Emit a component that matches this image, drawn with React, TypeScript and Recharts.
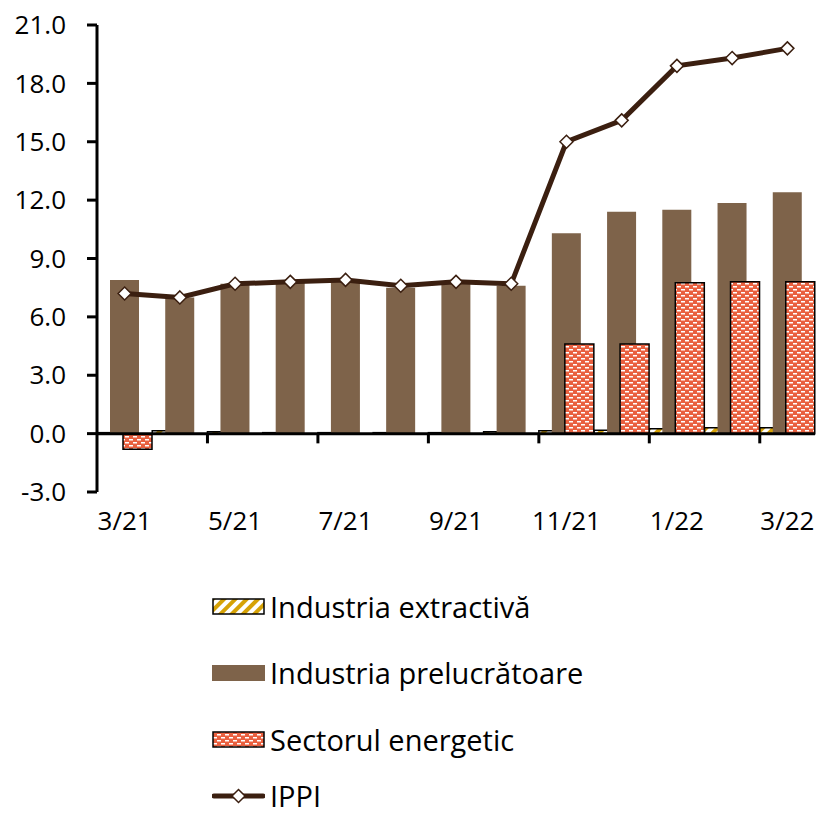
import { ComposedChart, Bar, Line, XAxis, YAxis, ReferenceLine } from 'recharts'

const months = ['3/21', '4/21', '5/21', '6/21', '7/21', '8/21', '9/21', '10/21', '11/21', '12/21', '1/22', '2/22', '3/22']
const extractive = [0.05, 0.15, 0.1, 0.05, 0.05, 0.05, 0.05, 0.1, 0.15, 0.17, 0.25, 0.3, 0.3]
const manufacturing = [7.9, 7.0, 7.7, 7.8, 7.8, 7.5, 7.7, 7.6, 10.3, 11.4, 11.5, 11.85, 12.4]
const energy = [-0.8, 0, 0, 0, 0, 0, 0, 0, 4.6, 4.6, 7.75, 7.8, 7.8]
const ippi = [7.2, 7.0, 7.7, 7.8, 7.9, 7.6, 7.8, 7.7, 15.0, 16.1, 18.9, 19.3, 19.8]
const yTicks = [-3, 0, 3, 6, 9, 12, 15, 18, 21]
const legendItems = ['Industria extractivă', 'Industria prelucrătoare', 'Sectorul energetic', 'IPPI']

const BROWN = '#7E634A'
const RED = '#E9603F'
const GOLD = '#D6A206'
const LINE = '#3B1F10'
const FONT = '"Open Sans", sans-serif'

const data = months.map((m, i) => ({
  month: m,
  extractive: extractive[i],
  manufacturing: manufacturing[i],
  energy: energy[i],
  ippi: ippi[i],
}))

// tick marks on the zero line every second category boundary
const boundaryTicks = months.filter((_, i) => i > 0 && i % 2 === 0)

const Diamond = (props: any) => {
  const { cx, cy } = props
  if (cx == null || cy == null) return null
  const r = 6.5
  return (
    <polygon
      points={`${cx},${cy - r} ${cx + r},${cy} ${cx},${cy + r} ${cx - r},${cy}`}
      fill="#fff"
      stroke={LINE}
      strokeWidth={1.5}
    />
  )
}

function Patterns() {
  return (
    <svg width={0} height={0} style={{ position: 'absolute' }}>
      <defs>
        <pattern id="stripes" width={8} height={8} patternUnits="userSpaceOnUse" patternTransform="rotate(45)">
          <rect width={8} height={8} fill="#fff" />
          <rect width={4} height={8} fill={GOLD} />
        </pattern>
        <pattern id="bricks" width={8} height={6} patternUnits="userSpaceOnUse">
          <rect width={8} height={6} fill={RED} />
          <rect x={1} y={1} width={4} height={1.5} fill="#fff" />
          <rect x={5} y={4} width={3} height={1.5} fill="#fff" />
          <rect x={0} y={4} width={1} height={1.5} fill="#fff" />
        </pattern>
      </defs>
    </svg>
  )
}

function LegendIcon({ index }: { index: number }) {
  return (
    <svg width={53} height={20} style={{ display: 'block' }}>
      {index === 0 && <rect x={1} y={2} width={51} height={15} fill="url(#stripes)" stroke="#000" strokeWidth={1.5} />}
      {index === 1 && <rect x={0} y={2} width={53} height={16} fill={BROWN} />}
      {index === 2 && <rect x={1} y={2} width={51} height={15} fill="url(#bricks)" stroke="#000" strokeWidth={1.5} />}
      {index === 3 && (
        <g>
          <line x1={2} y1={10} x2={51} y2={10} stroke={LINE} strokeWidth={5} strokeLinecap="round" />
          <Diamond cx={26.5} cy={10} />
        </g>
      )}
    </svg>
  )
}

export default function App() {
  return (
    <div style={{ position: 'absolute', left: 0, top: 0, width: 821, height: 819, background: '#fff', fontFamily: FONT }}>
      <Patterns />
      <ComposedChart
        width={821}
        height={560}
        data={data}
        margin={{ top: 25, right: 6, left: 0, bottom: 28 }}
        barGap={-16}
        barSize={29}
      >
        <XAxis
          dataKey="month"
          interval={1}
          axisLine={false}
          tickLine={false}
          tickSize={0}
          tickMargin={20}
          height={40}
          tick={{ fill: '#000', fontSize: 26, fontFamily: FONT }}
        />
        <YAxis
          type="number"
          domain={[-3, 21]}
          ticks={yTicks}
          width={97}
          interval={0}
          tickSize={10}
          tickMargin={21}
          axisLine={{ stroke: '#000', strokeWidth: 3 }}
          tickLine={{ stroke: '#000', strokeWidth: 3 }}
          tick={{ fill: '#000', fontSize: 26, fontFamily: FONT }}
          tickFormatter={(v: number) => v.toFixed(1)}
        />
        <Bar dataKey="extractive" fill="url(#stripes)" stroke="#000" strokeWidth={1.5} isAnimationActive={false} />
        <Bar dataKey="manufacturing" fill={BROWN} isAnimationActive={false} />
        <Bar dataKey="energy" fill="url(#bricks)" stroke="#000" strokeWidth={1.5} isAnimationActive={false} />
        <ReferenceLine y={0} stroke="#000" strokeWidth={3} />
        {boundaryTicks.map(m => (
          <ReferenceLine
            key={m}
            position="start"
            segment={[{ x: m, y: 0 }, { x: m, y: -0.5 }]}
            stroke="#000"
            strokeWidth={3}
          />
        ))}
        <Line
          dataKey="ippi"
          type="linear"
          stroke={LINE}
          strokeWidth={5}
          dot={<Diamond />}
          activeDot={false}
          isAnimationActive={false}
        />
      </ComposedChart>
      {legendItems.map((label, i) => (
        <div
          key={label}
          style={{
            position: 'absolute',
            left: 212,
            top: [607, 673, 740, 796][i] - 15,
            height: 30,
            lineHeight: '30px',
            display: 'flex',
            alignItems: 'center',
            fontSize: 29,
            color: '#000',
            whiteSpace: 'nowrap',
          }}
        >
          <LegendIcon index={i} />
          <span style={{ marginLeft: 5, lineHeight: '30px' }}>{label}</span>
        </div>
      ))}
    </div>
  )
}
